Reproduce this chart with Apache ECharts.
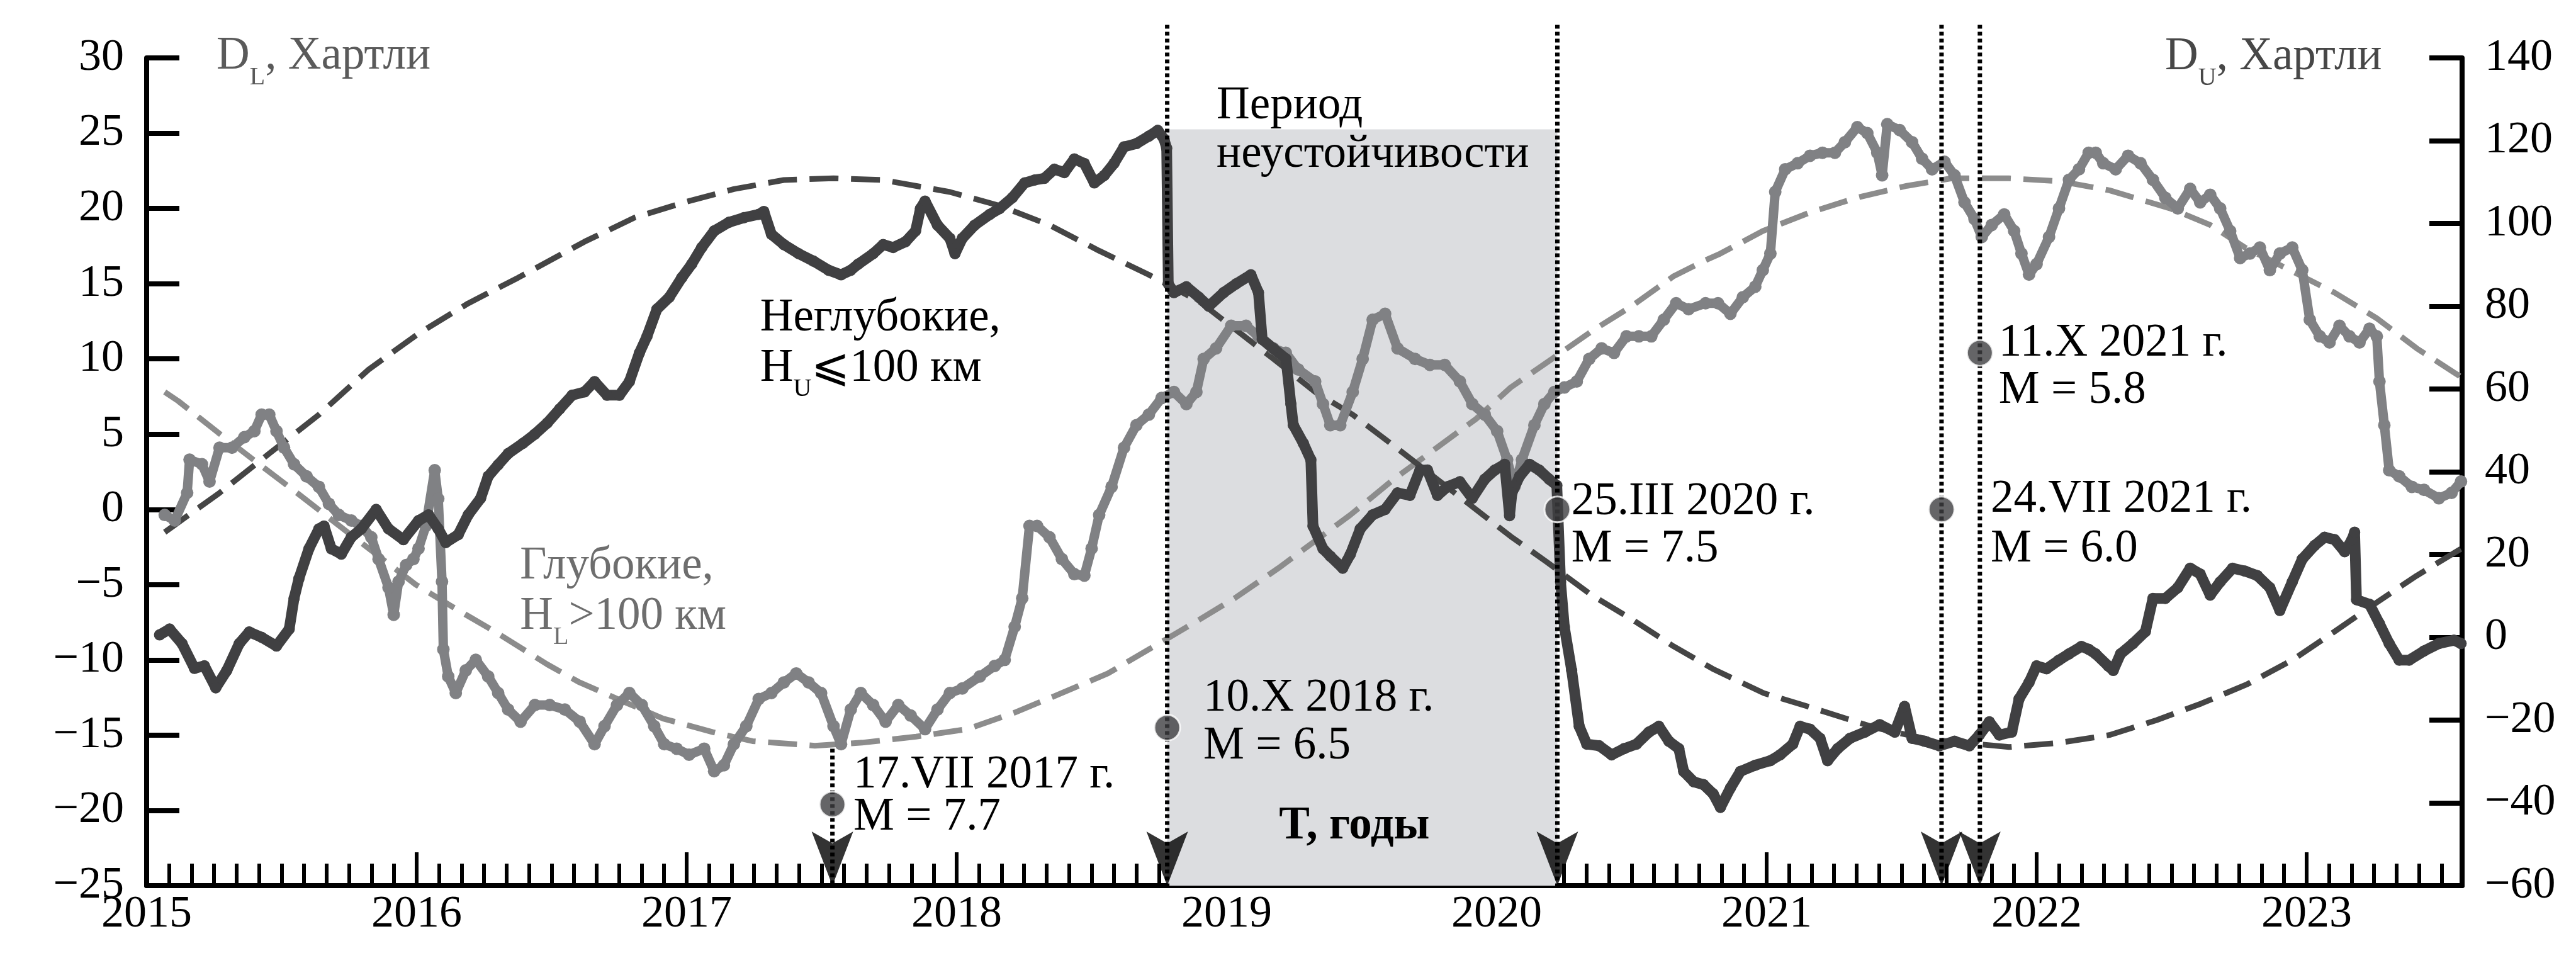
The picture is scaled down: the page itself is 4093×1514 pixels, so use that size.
<!DOCTYPE html>
<html><head><meta charset="utf-8">
<script src="https://cdn.jsdelivr.net/npm/echarts@6/dist/echarts.min.js"></script>
<style>html,body{margin:0;padding:0;background:#fff}#c{width:4093px;height:1514px}</style>
</head><body><div id="c"></div>
<script>
// ---------- DATA ----------
// Shallow events D_U (right axis, Hartley)
const shallowYears = [2015.048,2015.085,2015.131,2015.177,2015.214,2015.256,2015.297,2015.343,2015.38,2015.426,2015.481,2015.528,2015.546,2015.564,2015.601,2015.638,2015.657,2015.684,2015.721,2015.758,2015.795,2015.85,2015.896,2015.951,2016.007,2016.044,2016.08,2016.108,2016.154,2016.191,2016.237,2016.265,2016.302,2016.339,2016.394,2016.438,2016.484,2016.53,2016.576,2016.622,2016.659,2016.705,2016.751,2016.788,2016.825,2016.853,2016.89,2016.936,2016.982,2017.019,2017.056,2017.102,2017.157,2017.212,2017.267,2017.286,2017.314,2017.36,2017.415,2017.47,2017.526,2017.572,2017.608,2017.636,2017.691,2017.728,2017.765,2017.811,2017.848,2017.866,2017.883,2017.929,2017.975,2017.994,2018.021,2018.067,2018.123,2018.159,2018.206,2018.252,2018.289,2018.325,2018.362,2018.399,2018.436,2018.473,2018.51,2018.547,2018.583,2018.62,2018.666,2018.712,2018.745,2018.768,2018.778,2018.784,2018.805,2018.851,2018.897,2018.934,2018.989,2019.035,2019.09,2019.118,2019.132,2019.173,2019.22,2019.238,2019.247,2019.284,2019.312,2019.32,2019.357,2019.384,2019.43,2019.458,2019.495,2019.541,2019.587,2019.633,2019.679,2019.716,2019.744,2019.781,2019.818,2019.864,2019.91,2019.956,2019.993,2020.03,2020.048,2020.057,2020.085,2020.122,2020.158,2020.195,2020.223,2020.237,2020.251,2020.278,2020.306,2020.334,2020.38,2020.426,2020.472,2020.518,2020.564,2020.601,2020.638,2020.675,2020.693,2020.73,2020.767,2020.802,2020.829,2020.866,2020.903,2020.958,2021.014,2021.05,2021.097,2021.124,2021.161,2021.198,2021.226,2021.263,2021.309,2021.364,2021.419,2021.475,2021.511,2021.539,2021.585,2021.64,2021.696,2021.751,2021.788,2021.825,2021.862,2021.908,2021.935,2021.972,2022.0,2022.037,2022.083,2022.12,2022.166,2022.193,2022.219,2022.265,2022.284,2022.311,2022.357,2022.403,2022.431,2022.477,2022.523,2022.569,2022.606,2022.643,2022.68,2022.726,2022.772,2022.818,2022.864,2022.901,2022.947,2022.984,2023.03,2023.067,2023.104,2023.141,2023.168,2023.178,2023.185,2023.233,2023.27,2023.306,2023.343,2023.38,2023.435,2023.49,2023.546,2023.572];
const shallowValues = [0.6,2.0,-1.5,-7.5,-6.9,-12.2,-8.0,-1.5,1.3,0.0,-2.1,2.0,9.4,14.2,21.4,26.2,26.9,21.4,20.1,24.2,26.2,30.9,26.2,23.6,28.2,29.6,26.2,22.9,24.8,29.6,33.6,38.9,41.7,44.4,46.9,49.1,51.8,55.2,58.5,59.3,61.8,58.5,58.5,61.8,68.7,72.7,79.3,82.2,86.9,90.2,94.2,98.2,100.3,101.4,102.2,102.9,97.4,94.9,92.7,90.9,88.7,87.6,88.7,90.2,92.7,94.9,94.2,95.6,98.2,103.6,105.4,99.6,96.4,92.7,96.4,99.6,102.2,103.6,106.2,109.8,110.5,110.9,113.1,112.3,115.6,114.5,109.8,111.6,114.5,118.5,119.3,121.1,122.5,120.4,118.2,85.4,83.3,84.7,82.2,80.0,83.3,85.4,87.6,83.3,72.0,69.8,67.3,56.4,51.3,46.9,42.9,26.9,21.4,19.6,16.7,20.0,26.2,29.6,30.9,34.9,34.3,40.4,40.4,34.3,36.4,37.6,33.6,38.2,40.4,41.8,29.4,34.9,38.9,41.8,40.4,38.2,36.7,13.4,2.5,-8.0,-21.5,-25.8,-26.2,-28.4,-26.9,-25.8,-22.9,-21.5,-25.1,-26.9,-32.4,-34.9,-35.6,-37.8,-41.1,-36.4,-32.4,-30.9,-29.8,-28.4,-25.8,-21.5,-22.2,-24.4,-29.8,-26.9,-24.4,-22.9,-21.1,-22.9,-16.7,-24.4,-25.1,-26.2,-25.1,-26.2,-23.6,-20.4,-23.6,-22.9,-14.9,-10.9,-6.9,-7.6,-5.5,-4.0,-2.2,-2.9,-4.0,-6.9,-8.0,-4.0,-1.5,1.4,9.4,9.4,12.0,16.7,15.3,10.2,13.4,16.7,16.0,14.9,12.0,6.5,13.4,18.9,22.2,24.2,23.6,20.7,23.6,25.4,9.1,8.0,3.3,-1.5,-5.5,-5.5,-3.3,-1.5,-0.7,-1.5];

// Deep events D_L (left axis, Hartley)
const deepYears = [2015.067,2015.104,2015.15,2015.159,2015.205,2015.233,2015.27,2015.316,2015.362,2015.399,2015.426,2015.454,2015.481,2015.509,2015.546,2015.592,2015.638,2015.675,2015.712,2015.758,2015.795,2015.832,2015.859,2015.896,2015.915,2015.933,2015.961,2015.988,2016.007,2016.034,2016.067,2016.08,2016.094,2016.099,2016.117,2016.145,2016.182,2016.219,2016.265,2016.302,2016.339,2016.385,2016.438,2016.493,2016.549,2016.604,2016.659,2016.696,2016.742,2016.788,2016.834,2016.88,2016.917,2016.963,2017.009,2017.065,2017.102,2017.138,2017.175,2017.221,2017.267,2017.314,2017.36,2017.406,2017.452,2017.498,2017.544,2017.572,2017.608,2017.645,2017.691,2017.737,2017.784,2017.83,2017.883,2017.929,2017.975,2018.021,2018.086,2018.141,2018.178,2018.215,2018.243,2018.27,2018.298,2018.344,2018.39,2018.436,2018.473,2018.5,2018.528,2018.574,2018.62,2018.666,2018.712,2018.759,2018.805,2018.851,2018.888,2018.915,2018.961,2019.017,2019.072,2019.118,2019.173,2019.219,2019.265,2019.328,2019.357,2019.384,2019.421,2019.467,2019.504,2019.541,2019.587,2019.633,2019.698,2019.753,2019.808,2019.864,2019.91,2019.956,2020.002,2020.039,2020.066,2020.094,2020.14,2020.177,2020.214,2020.251,2020.297,2020.343,2020.389,2020.435,2020.481,2020.527,2020.573,2020.619,2020.665,2020.711,2020.774,2020.82,2020.866,2020.912,2020.958,2020.986,2021.014,2021.032,2021.069,2021.115,2021.161,2021.207,2021.253,2021.29,2021.336,2021.373,2021.41,2021.428,2021.447,2021.493,2021.539,2021.576,2021.613,2021.659,2021.696,2021.733,2021.77,2021.797,2021.834,2021.88,2021.917,2021.944,2021.972,2022.0,2022.046,2022.083,2022.12,2022.157,2022.193,2022.219,2022.247,2022.293,2022.339,2022.385,2022.431,2022.477,2022.523,2022.569,2022.606,2022.643,2022.68,2022.717,2022.754,2022.79,2022.827,2022.864,2022.901,2022.947,2022.984,2023.012,2023.049,2023.085,2023.122,2023.159,2023.196,2023.233,2023.26,2023.27,2023.288,2023.306,2023.343,2023.39,2023.435,2023.49,2023.537,2023.572];
const deepValues = [-0.37,-0.74,1.1,3.3,3.0,1.85,4.1,4.1,4.8,5.2,6.3,6.3,5.2,4.1,3.0,2.2,1.5,0.37,-0.37,-0.74,-1.1,-1.85,-3.3,-5.2,-7.0,-4.8,-3.7,-3.3,-2.6,-1.1,2.6,0.7,-4.8,-9.3,-11.1,-12.2,-10.7,-10.0,-11.1,-12.2,-13.3,-14.1,-13.0,-13.0,-13.3,-14.1,-15.6,-14.4,-13.0,-12.2,-13.0,-14.4,-15.6,-15.9,-16.3,-15.9,-17.4,-17.0,-15.6,-14.4,-12.6,-12.2,-11.5,-10.9,-11.5,-12.2,-14.4,-15.6,-13.3,-12.2,-13.0,-14.1,-13.0,-13.7,-14.6,-13.3,-12.2,-11.9,-11.1,-10.4,-10.0,-7.8,-5.9,-1.1,-1.1,-1.85,-3.3,-4.3,-4.4,-2.6,-0.37,1.5,4.1,5.6,6.3,7.4,7.8,7.0,7.8,10.0,10.7,12.2,12.2,11.5,10.7,10.4,9.3,8.5,7.0,5.6,5.6,7.8,10.0,12.6,13.0,10.7,10.0,9.6,9.6,8.5,7.0,6.3,5.2,3.3,1.5,3.3,5.6,7.0,7.8,8.1,8.5,10.0,10.7,10.4,11.5,11.5,11.5,12.6,13.7,13.3,13.7,13.7,13.0,14.1,14.8,15.9,17.0,21.1,22.6,23.0,23.5,23.7,23.7,24.4,25.4,25.0,23.7,22.2,25.6,25.2,24.4,23.3,22.6,23.1,22.2,20.4,19.3,18.1,18.9,19.6,18.5,17.0,15.6,16.3,18.1,20.0,21.9,22.6,23.7,23.7,23.0,22.6,23.5,23.0,21.9,20.7,20.0,21.3,20.4,20.9,20.0,18.5,16.7,17.0,17.4,15.9,17.0,17.4,15.9,12.6,11.5,11.1,12.2,11.5,11.1,12.0,11.5,8.5,5.6,2.6,2.2,1.5,1.3,0.74,1.1,1.85];

// Fitted wave for shallow events (right axis)
const fitUYears = [2015.067,2015.27,2015.454,2015.638,2015.822,2016.007,2016.191,2016.376,2016.622,2016.807,2016.991,2017.175,2017.36,2017.544,2017.728,2017.975,2018.159,2018.344,2018.528,2018.712,2018.9,2019.173,2019.328,2019.467,2019.615,2019.831,2020.052,2020.186,2020.352,2020.5,2020.656,2020.8,2020.99,2021.152,2021.4,2021.6,2021.898,2022.083,2022.27,2022.445,2022.61,2022.781,2022.947,2023.104,2023.25,2023.408,2023.572];
const fitUValues = [25.4,34.9,44.4,53.8,64.7,73.4,80.7,86.9,95.6,101.4,105.1,108.3,110.5,110.9,110.5,107.6,104.3,99.6,93.4,87.6,81.1,67.3,59.3,53.8,46.5,35.6,24.4,18.2,10.2,4.4,-2.2,-7.6,-13.5,-16.7,-21.8,-24.7,-26.5,-25.5,-23.6,-20.0,-16.0,-11.3,-5.5,1.4,8.0,14.9,21.4];

// Fitted wave for deep events (left axis)
const fitLYears = [2015.067,2015.117,2015.265,2015.417,2015.564,2015.75,2015.997,2016.154,2016.297,2016.484,2016.604,2016.77,2016.913,2017.097,2017.244,2017.475,2017.65,2017.85,2018.04,2018.215,2018.39,2018.56,2018.712,2018.883,2019.03,2019.192,2019.458,2019.619,2019.771,2019.923,2020.052,2020.205,2020.357,2020.5,2020.656,2020.767,2020.829,2020.986,2021.156,2021.332,2021.52,2021.686,2021.898,2022.087,2022.27,2022.495,2022.643,2022.772,2023.104,2023.26,2023.408,2023.546,2023.572];
const fitLValues = [7.8,7.2,5.1,3.0,1.0,-1.6,-5.0,-6.7,-8.2,-10.3,-11.5,-12.8,-13.9,-14.8,-15.4,-15.7,-15.5,-15.1,-14.6,-13.5,-12.2,-10.9,-9.3,-7.5,-5.9,-3.9,-0.37,2.0,4.0,6.0,8.1,10.0,11.9,13.5,15.5,16.5,17.0,18.5,19.7,20.7,21.5,22.0,22.0,21.8,21.2,20.0,18.9,17.4,14.4,12.7,10.7,9.1,8.8];

// Earthquakes
const eventYears = [2017.54, 2018.78, 2020.225, 2021.648, 2021.79];
const eventDotValues = [-19.6, -14.5, 0, 0, 10.4];
const eventLineTops = [-15.9, 32.2, 32.2, 32.2, 32.2];
const eventDates = ['17.VII 2017 г.', '10.X 2018 г.', '25.III 2020 г.', '24.VII 2021 г.', '11.X 2021 г.'];
const eventMags = ['M = 7.7', 'M = 6.5', 'M = 7.5', 'M = 6.0', 'M = 5.8'];

// Instability period
const instabilityRange = [2018.78, 2020.225];
const instabilityTop = 25.25;

// Axes
const yearTicks = [2015, 2016, 2017, 2018, 2019, 2020, 2021, 2022, 2023];
const X_MIN = 2015, X_MAX = 2023.576;

// ---------- CHART ----------
const FONT = "'Liberation Serif','Times New Roman','DejaVu Serif',serif";
const zip = (a, b) => a.map((x, i) => [x, b[i]]);
const minus = v => String(v).replace('-', '\u2212');
const monthTicks = [];
for (let y = 2015; y < 2024; y++) for (let m = 1; m < 12; m++) { const t = y + m / 12; if (t < X_MAX) monthTicks.push(t); }

const chart = echarts.init(document.getElementById('c'), null, { renderer: 'canvas', width: 4093, height: 1514 });

const axisFont = { fontSize: 72, fontFamily: FONT, color: '#000' };
const series = [];

series.push({
  type: 'custom', silent: true, z: 1, clip: false,
  data: [[instabilityRange[0], -25]],
  renderItem: (params, api) => {
    const p0 = api.coord([instabilityRange[0], instabilityTop]);
    const p1 = api.coord([instabilityRange[1], -25]);
    return { type: 'rect', shape: { x: p0[0], y: p0[1], width: p1[0] - p0[0], height: p1[1] - p0[1] }, style: { fill: '#dcdde0' } };
  }
});
series.push({ type: 'line', name: 'fitL', yAxisIndex: 0, data: zip(fitLYears, fitLValues), symbol: 'none', silent: true, z: 2,
  lineStyle: { color: '#8c8c8c', width: 9, type: [46, 20] } });
series.push({ type: 'line', name: 'fitU', yAxisIndex: 1, data: zip(fitUYears, fitUValues), symbol: 'none', silent: true, z: 2,
  lineStyle: { color: '#454545', width: 9, type: [46, 20] } });
series.push({ type: 'line', name: 'deep', yAxisIndex: 0, data: zip(deepYears, deepValues), silent: true, z: 3,
  symbol: 'circle', symbolSize: 20, showSymbol: true, itemStyle: { color: '#808184' },
  lineStyle: { color: '#808184', width: 15, join: 'round', cap: 'round' } });
series.push({ type: 'line', name: 'shallow', yAxisIndex: 1, data: zip(shallowYears, shallowValues), silent: true, z: 4,
  symbol: 'circle', symbolSize: 18, showSymbol: true, itemStyle: { color: '#404042' },
  lineStyle: { color: '#404042', width: 17, join: 'round', cap: 'round' } });
eventYears.forEach((x, i) => {
  series.push({ type: 'line', yAxisIndex: 0, data: [[x, eventLineTops[i]], [x, -25]], symbol: 'none', silent: true, clip: false, z: 5,
    lineStyle: { color: '#000', width: 7, type: [6, 5] } });
});
series.push({ type: 'scatter', yAxisIndex: 0, data: eventYears.map(x => [x, -25]), silent: true, clip: false, z: 7,
  symbol: 'path://M0,0 L33,18 L66,0 L33,83 Z', symbolSize: [66, 86], symbolOffset: [0, '-50%'],
  itemStyle: { color: '#000' } });
series.push({ type: 'scatter', yAxisIndex: 0, data: zip(eventYears, eventDotValues), silent: true, clip: false, z: 8,
  symbol: 'circle', symbolSize: 41, itemStyle: { color: '#3f3f41', borderColor: '#fff', borderWidth: 3 } });

const option = {
  animation: false,
  backgroundColor: '#fff',
  grid: { left: 233, right: 181, top: 92, bottom: 107, containLabel: false },
  xAxis: [
    { type: 'value', min: X_MIN, max: X_MAX, position: 'bottom',
      axisLine: { show: true, onZero: false, lineStyle: { color: '#000', width: 8 } },
      axisTick: { show: true, inside: true, length: 53, customValues: yearTicks, lineStyle: { color: '#000', width: 6 } },
      axisLabel: Object.assign({ show: true, customValues: yearTicks, margin: 10, formatter: v => String(Math.round(v)) }, axisFont),
      splitLine: { show: false } },
    { type: 'value', min: X_MIN, max: X_MAX, position: 'bottom',
      axisLine: { show: false, onZero: false },
      axisTick: { show: true, inside: true, length: 35, customValues: monthTicks, lineStyle: { color: '#000', width: 6 } },
      axisLabel: { show: false }, splitLine: { show: false } }
  ],
  yAxis: [
    { type: 'value', min: -25, max: 30, interval: 5, position: 'left',
      axisLine: { show: true, onZero: false, lineStyle: { color: '#000', width: 8 } },
      axisTick: { show: true, inside: true, length: 52, lineStyle: { color: '#000', width: 8 } },
      axisLabel: Object.assign({ margin: 36, formatter: minus }, axisFont),
      splitLine: { show: false } },
    { type: 'value', min: -60, max: 140, interval: 20, position: 'right',
      axisLine: { show: true, onZero: false, lineStyle: { color: '#000', width: 8 } },
      axisTick: { show: true, inside: true, length: 52, lineStyle: { color: '#000', width: 8 } },
      axisLabel: Object.assign({ margin: 36, formatter: minus }, axisFont),
      splitLine: { show: false } }
  ],
  series: series
};
chart.setOption(option);

// ---------- TEXT ANNOTATIONS ----------
const mctx = document.createElement('canvas').getContext('2d');
function measure(t, size, bold) { mctx.font = (bold ? 'bold ' : '') + size + 'px ' + FONT; return mctx.measureText(t).width; }
const MAIN = 73, SUB = 40, SUB_DY = 22;
function textRun(year, val, parts, opts) {
  opts = opts || {};
  const p = chart.convertToPixel({ xAxisIndex: 0, yAxisIndex: 0 }, [year, val]);
  let x = p[0];
  const base = p[1];
  const items = parts.map(pt => typeof pt === 'string' ? { t: pt } : pt);
  const widths = items.map(it => measure(it.t, it.sub ? SUB : MAIN, opts.bold));
  if (opts.center) x -= widths.reduce((a, b) => a + b, 0) / 2;
  const out = [];
  items.forEach((it, i) => {
    const size = it.sub ? SUB : MAIN;
    const bl = base + (it.sub ? SUB_DY : 0);
    out.push({ type: 'text', x: x, y: bl - 0.3375 * size, silent: true, z: 100,
      style: { text: it.t, fontSize: size, fontFamily: FONT, fontWeight: opts.bold ? 'bold' : 'normal',
        fill: opts.color || '#000', align: 'left', verticalAlign: 'middle' } });
    x += widths[i];
  });
  return out;
}
const labelPos = [
  { x: 2017.618, v1: -18.7, v2: -21.5 },
  { x: 2018.914, v1: -13.6, v2: -16.8 },
  { x: 2020.277, v1: -0.56, v2: -3.7 },
  { x: 2021.83, v1: -0.37, v2: -3.7 },
  { x: 2021.86, v1: 10.0, v2: 6.85 }
];
let g = [];
g = g.concat(textRun(2018.963, 25.74, ['Период']));
g = g.concat(textRun(2018.963, 22.52, ['неустойчивости']));
g = g.concat(textRun(2017.272, 11.67, ['Неглубокие,']));
g = g.concat(textRun(2017.272, 8.33, ['H', { t: 'U', sub: true }, '\u2A7D100 км']));
g = g.concat(textRun(2016.383, -4.81, ['Глубокие,'], { color: '#6e6e6e' }));
g = g.concat(textRun(2016.383, -8.15, ['H', { t: 'L', sub: true }, '>100 км'], { color: '#6e6e6e' }));
g = g.concat(textRun(2015.259, 29.04, ['D', { t: 'L', sub: true }, ', Хартли'], { color: '#5a5a5a' }));
g = g.concat(textRun(2022.476, 29.0, ['D', { t: 'U', sub: true }, ', Хартли'], { color: '#474747' }));
g = g.concat(textRun(2019.473, -22.1, ['T, годы'], { bold: true, center: true }));
eventDates.forEach((d, i) => {
  g = g.concat(textRun(labelPos[i].x, labelPos[i].v1, [d]));
  g = g.concat(textRun(labelPos[i].x, labelPos[i].v2, [eventMags[i]]));
});
chart.setOption({ graphic: { elements: g } });
</script></body></html>
